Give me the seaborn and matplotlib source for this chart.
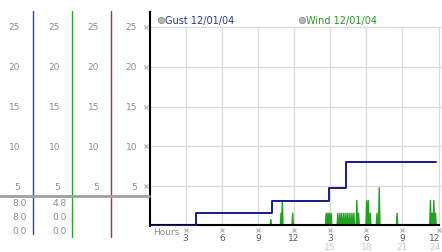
import matplotlib
matplotlib.use("Agg")
import matplotlib.pyplot as plt
from matplotlib.lines import Line2D
from matplotlib.transforms import blended_transform_factory
import seaborn as sns
import pandas as pd

# ---------------- data ----------------
gust_hours = [0.0, 3.9, 10.15, 14.9, 16.33, 23.83]
gust_values = [0.0, 1.6, 3.2, 4.8, 8.0, 8.0]

wind_spike_hours = [10.08, 10.92, 11.03, 11.89, 14.67, 14.81, 14.94, 15.08,
                    15.64, 15.81, 15.97, 16.14, 16.31, 16.47, 16.64, 16.81,
                    16.97, 17.22, 17.36, 18.03, 18.17, 18.33, 18.89, 19.08,
                    20.56, 23.33, 23.47, 23.61, 23.75]
wind_spike_values = [0.8, 1.6, 3.2, 1.6, 1.6, 1.6, 1.6, 1.6,
                     1.6, 1.6, 1.6, 1.6, 1.6, 1.6, 1.6, 1.6,
                     1.6, 3.2, 1.6, 3.2, 3.2, 1.6, 1.6, 4.8,
                     1.6, 3.2, 1.6, 3.2, 1.6]

y_ticks = [5, 10, 15, 20, 25]
x_ticks = [3, 6, 9, 12, 15, 18, 21, 24]
x_labels_top = ["3", "6", "9", "12", "3", "6", "9", "12"]
x_labels_24h = ["15", "18", "21", "24"]
gust_stats = ["8.0", "8.0", "0.0"]
wind_stats = ["4.8", "0.0", "0.0"]
legend_labels = ["Gust 12/01/04", "Wind 12/01/04"]

# wind line: each reading is a spike back to zero between samples
wx, wy = [0.0], [0.0]
for h, v in zip(wind_spike_hours, wind_spike_values):
    wx += [h - 0.06, h, h + 0.06]
    wy += [0.0, v, 0.0]
wx.append(24.0)
wy.append(0.0)
wind_df = pd.DataFrame({"hour": wx, "speed": wy})
gust_df = pd.DataFrame({"hour": gust_hours, "speed": gust_values})

# ---------------- figure ----------------
sns.set_style("white")
plt.rcParams["font.family"] = ["DejaVu Sans"]
W, H = 442, 253
fig = plt.figure(figsize=(W / 100, H / 100), dpi=100)
fig.patch.set_facecolor("white")


def fx(px):
    return px / W


def fy(py):
    return 1 - py / H


ax = fig.add_axes([fx(149.5), fy(227), 289 / W, 214 / H])
ax.set_xlim(0, 24)
ax.set_ylim(0, 214 / 7.96)
ax.set_facecolor("white")

# grid
ax.hlines(y_ticks, 0, 24.2, color="#dcdcdc", lw=1, zorder=0.5, clip_on=False)
ax.vlines(x_ticks, 0, 25, color="#dcdcdc", lw=1, zorder=0.5, clip_on=False)

sns.lineplot(data=wind_df, x="hour", y="speed", ax=ax, color="#22a022",
             lw=1.0, estimator=None, sort=False, zorder=1.5)
sns.lineplot(data=gust_df, x="hour", y="speed", ax=ax, color="#1a1a8a",
             lw=1.4, estimator=None, drawstyle="steps-post", zorder=3)

for s in ["top", "right"]:
    ax.spines[s].set_visible(False)
ax.spines["left"].set_color("black")
ax.spines["left"].set_linewidth(1.5)
ax.spines["bottom"].set_color("black")
ax.spines["bottom"].set_linewidth(1.5)
ax.spines["bottom"].set_position(("data", 0.15))
ax.set_xticks([])
ax.set_yticks([])
ax.set_xlabel("")
ax.set_ylabel("")

# left panel
bt = blended_transform_factory(fig.transFigure, ax.transData)
col_right = [20, 60, 99, 137]
for c in col_right:
    for v in y_ticks:
        ax.text(fx(c), v, str(v), transform=bt, ha="right", va="center",
                fontsize=6.5, color="#8c8c8c", clip_on=False)
for v in y_ticks:
    ax.plot([fx(145.5)], [v], transform=bt, marker="x", ms=2.5, mew=0.8,
            color="#b0b0b0", clip_on=False)

# colored separators
for px, col, y1 in [(33.3, "#2846b4", 235), (72.3, "#2fa02f", 238),
                    (111, "#b03232", 238)]:
    fig.add_artist(Line2D([fx(px), fx(px)], [fy(12), fy(y1)],
                          transform=fig.transFigure, color=col, lw=1))
fig.add_artist(Line2D([0, fx(149)], [fy(196.7), fy(196.7)],
                      transform=fig.transFigure, color="#a0a0a0", lw=2))

for i, (g, w) in enumerate(zip(gust_stats, wind_stats)):
    yy = fy(204 + 14 * i)
    fig.text(fx(27), yy, g, ha="right", va="center", fontsize=6.5, color="#8c8c8c")
    fig.text(fx(67), yy, w, ha="right", va="center", fontsize=6.5, color="#8c8c8c")

# legend
for (px, lab, col) in [(160.7, legend_labels[0], "#23379a"),
                       (301.7, legend_labels[1], "#239a23")]:
    fig.add_artist(Line2D([fx(px)], [fy(21)], transform=fig.transFigure,
                          marker="o", ms=4.5, mfc="#b8b8b8", mec="#8c8c8c",
                          mew=0.6, ls="none"))
    fig.text(fx(px + 4), fy(21), lab, ha="left", va="center", fontsize=7,
             color=col)

# x axis labels
bx = blended_transform_factory(ax.transData, fig.transFigure)
fig.text(fx(153), fy(232.5), "Hours", ha="left", va="center", fontsize=6.5,
         color="#8c8c8c")
for h, lab in zip(x_ticks, x_labels_top):
    ha = "right" if h == 24 else "center"
    off = 0.15 if h == 24 else 0
    ax.plot([h], [fy(230.5)], transform=bx, marker="x", ms=2.5, mew=0.8,
            color="#b0b0b0", clip_on=False)
    ax.text(h + off, fy(238.5), lab, transform=bx, ha=ha, va="center",
            fontsize=6.5, color="#5a5a5a", clip_on=False)
for h, lab in zip(x_ticks[4:], x_labels_24h):
    ha = "right" if h == 24 else "center"
    off = 0.15 if h == 24 else 0
    ax.text(h + off, fy(247.5), lab, transform=bx, ha=ha, va="center",
            fontsize=6.5, color="#c8c8c8", clip_on=False)

fig.savefig("out.png", dpi=100)
